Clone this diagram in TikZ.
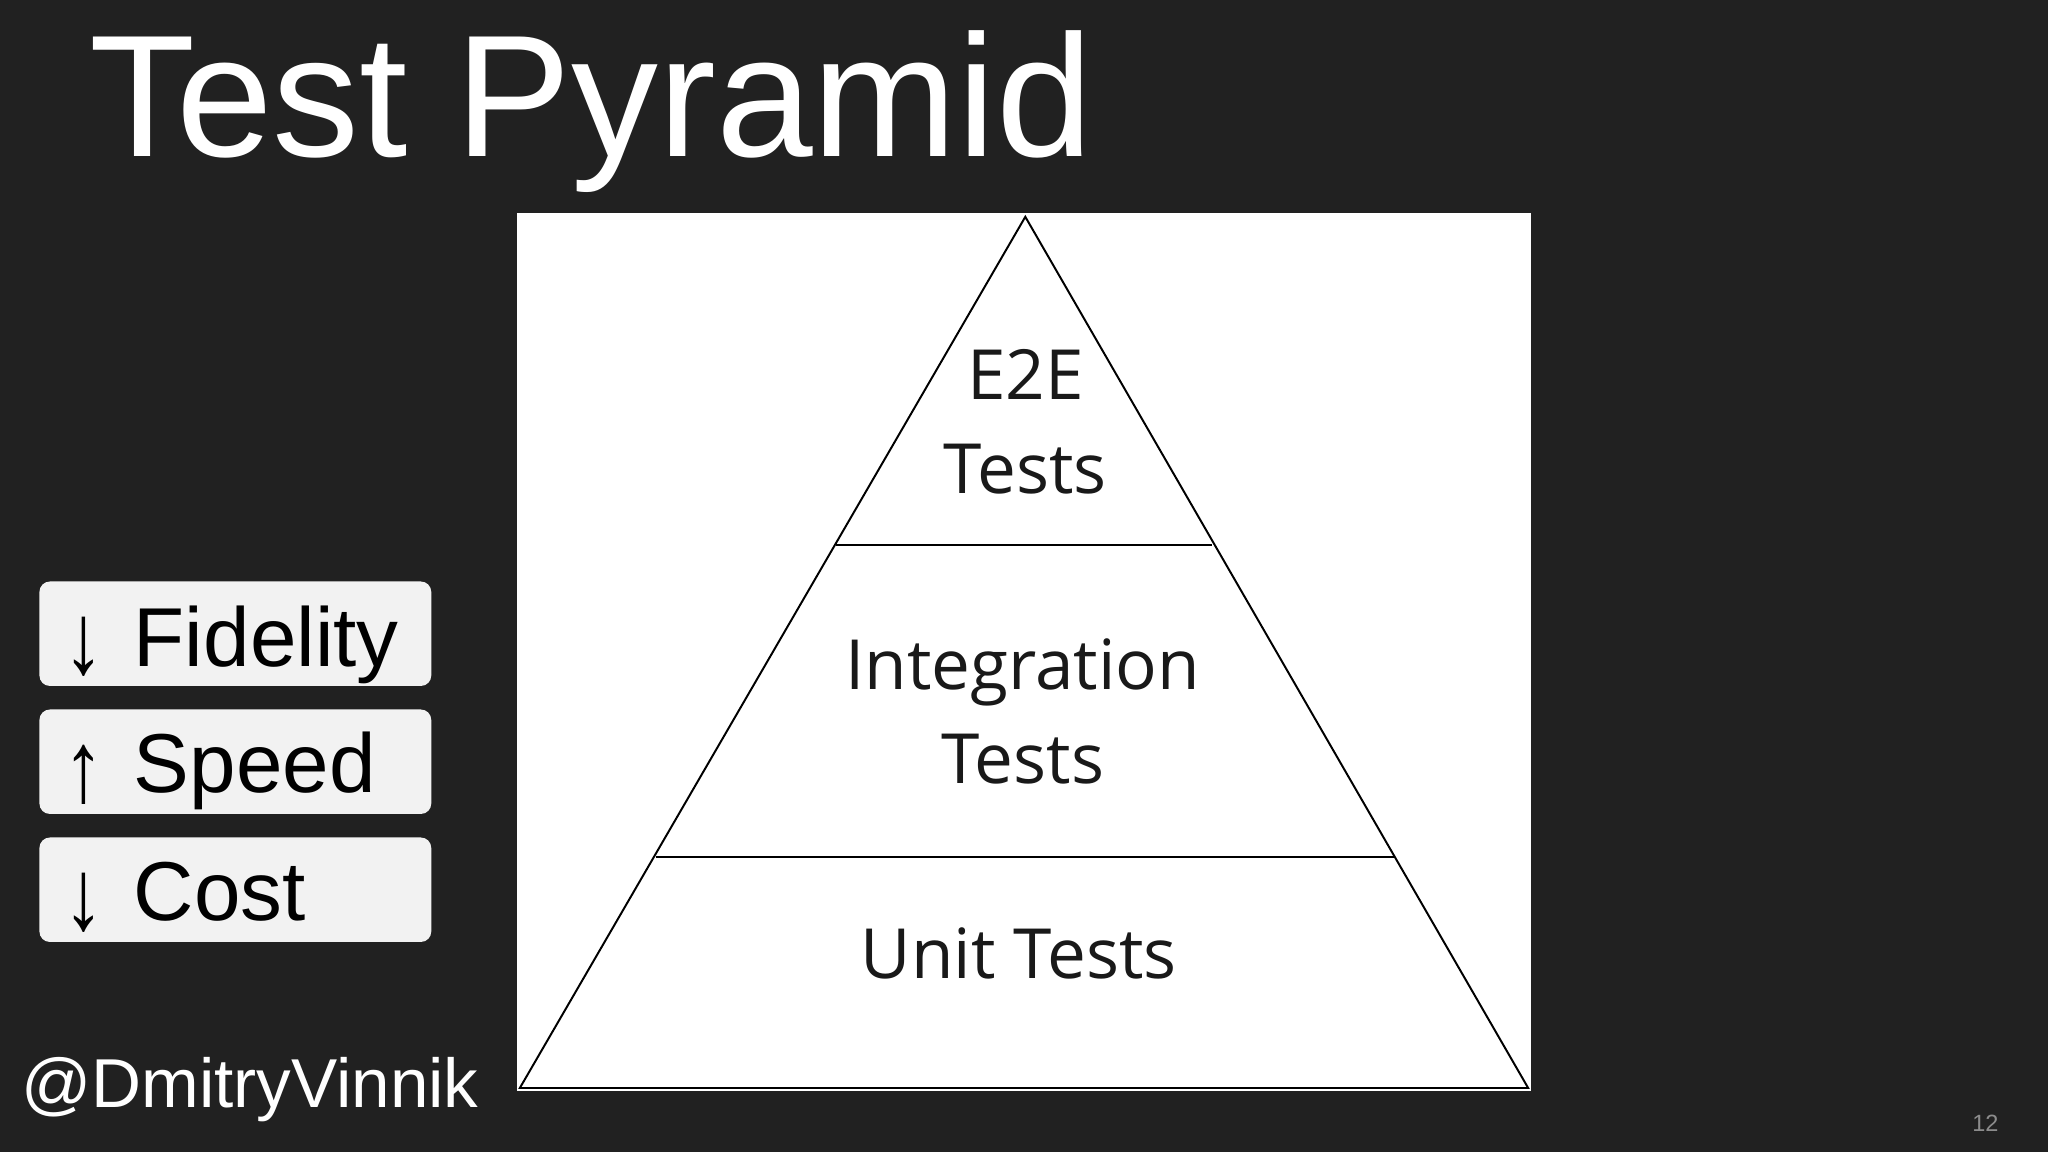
\documentclass[tikz,border=0pt]{standalone}
\usepackage{fontspec}
\setmainfont{Liberation Sans}
\newfontfamily\pyr{Open Sans}
\newfontfamily\arr{DejaVu Sans}
\begin{document}
\begin{tikzpicture}[x=1pt,y=-1pt,
  side/.style={fill=black!5,rounded corners=8pt,minimum width=300pt,minimum height=80pt,anchor=north west,inner sep=0pt},
  ptext/.style={font=\pyr\fontsize{53}{72}\selectfont,align=center,text=black!90},
  sidetext/.style={font=\fontsize{64}{70}\selectfont,anchor=base west},
  arrw/.style={font=\fontsize{48}{48}\selectfont,inner sep=0,xscale=1.3,yscale=1.6,anchor=base}]
\fill[black!87] (0,0) rectangle (1568,882);
\useasboundingbox (0,0) rectangle (1568,882);
\node[anchor=base west,text=white,font=\fontsize{133}{140}\selectfont,inner sep=0] (title) at (68,120) {Test Pyramid};
\fill[white] (396,163) rectangle (1172,835);
\coordinate (apex) at (785,166);
\coordinate (bl) at (398,833);
\coordinate (br) at (1170,833);
\coordinate (l1) at (640,417); \coordinate (r1) at (928,417);
\coordinate (l2) at (502,656); \coordinate (r2) at (1067,656);
\draw[black,line width=1.5pt] (apex) -- (bl) -- (br) -- cycle;
\draw[black,line width=1.5pt] (l1) -- (r1) (l2) -- (r2);
\node[ptext] (e2e) at (785,323) {E2E\\Tests};
\node[ptext] (integ) at (783,545) {Integration\\Tests};
\node[ptext] (unit) at (780,730) {Unit Tests};
\node[side] (b1) at (30,445) {};
\node[side] (b2) at (30,543) {};
\node[side] (b3) at (30,641) {};
\node[arrw] (a1) at (64,516) {↓};
\node[arrw] (a2) at (64,614) {↑};
\node[arrw] (a3) at (64,712) {↓};
\node[sidetext] (t1) at (99,510) {Fidelity};
\node[sidetext] (t2) at (99,607) {Speed};
\node[sidetext] (t3) at (99,705) {Cost};
\node[anchor=base west,text=white,font=\fontsize{53}{60}\selectfont,inner sep=0] (handle) at (16,848) {@DmitryVinnik};
\node[text=black!45,font=\fontsize{18}{20}\selectfont] (pg) at (1520,860) {12};
\end{tikzpicture}
\end{document}
